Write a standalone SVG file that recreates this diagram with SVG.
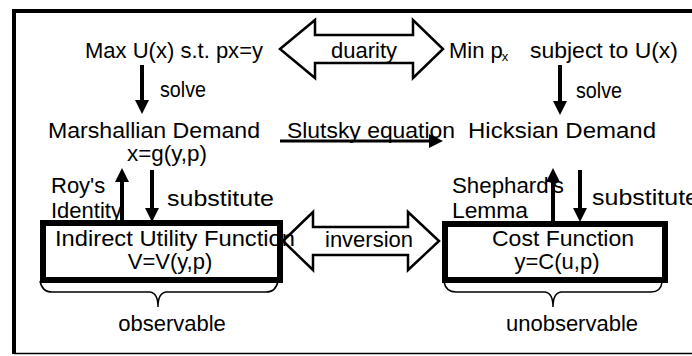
<svg xmlns="http://www.w3.org/2000/svg" width="692" height="356" viewBox="0 0 692 356">
<style>
text{font-family:"Liberation Sans",Arial,sans-serif;font-size:22px;fill:#000}
.solid{stroke:#000;stroke-width:4;fill:none}
.thin{stroke:#000;stroke-width:3;fill:none}
.hollow{stroke:#000;stroke-width:2.5;fill:none;stroke-linejoin:miter}
.box{stroke:#000;stroke-width:6;fill:#fff}
.brace{stroke:#000;stroke-width:1.5;fill:none}
.mid{text-anchor:middle}
</style>
<defs>
<marker id="ah" viewBox="0 0 14 14" refX="1" refY="7" markerWidth="14" markerHeight="14" markerUnits="userSpaceOnUse" orient="auto">
<path d="M0,0 L14,7 L0,14 Z" fill="#000"/>
</marker>
</defs>
<rect width="692" height="356" fill="#fff"/>
<g id="frame">
<line x1="14" y1="9" x2="14" y2="354" stroke="#000" stroke-width="4"/>
<line x1="12" y1="11" x2="692" y2="11" stroke="#000" stroke-width="4"/>
<line x1="14" y1="353.5" x2="692" y2="353.5" stroke="#000" stroke-width="1.5"/>
</g>
<g id="utility-max"><text x="85" y="58" textLength="178" lengthAdjust="spacingAndGlyphs">Max U(x) s.t. px=y</text></g>
<g id="expenditure-min"><text x="449" y="58">Min p<tspan font-size="13" dx="-1" dy="3">x</tspan></text><text x="530" y="58" textLength="148" lengthAdjust="spacingAndGlyphs">subject to U(x)</text></g>
<g id="marshallian"><text x="48" y="138" textLength="212" lengthAdjust="spacingAndGlyphs">Marshallian Demand</text><text x="127" y="161" textLength="80" lengthAdjust="spacingAndGlyphs">x=g(y,p)</text></g>
<g id="hicksian"><text x="468" y="138" textLength="188" lengthAdjust="spacingAndGlyphs">Hicksian Demand</text></g>
<g id="indirect-utility">
<rect class="box" x="43" y="223" width="237" height="57"/>
<text x="55" y="246" textLength="240" lengthAdjust="spacingAndGlyphs">Indirect Utility Function</text>
<text x="170" y="269" class="mid">V=V(y,p)</text>
</g>
<g id="cost-function">
<rect class="box" x="445" y="224" width="220" height="56"/>
<text x="563" y="246" class="mid" textLength="142" lengthAdjust="spacingAndGlyphs">Cost Function</text>
<text x="557" y="269" class="mid">y=C(u,p)</text>
</g>
<g id="observable">
<path class="brace" d="M40,281 Q42,292 52,292 L150,292 Q158,293 158,307 Q158,293 166,292 L266,292 Q276,292 278,281"/>
<text x="172" y="331" class="mid">observable</text>
</g>
<g id="unobservable">
<path class="brace" d="M444,282 Q446,292 456,292 L545,292 Q553,293 553,307 Q553,293 561,292 L651,292 Q661,292 662,282"/>
<text x="572" y="331" class="mid">unobservable</text>
</g>
<g id="connectors">
<path class="hollow" d="M280,49 L315,20 L315,35 L413,35 L413,20 L443,49 L413,78 L413,63 L315,63 L315,78 Z"/>
<text x="331" y="58">duarity</text>
<path class="hollow" d="M283,241 L313,212 L313,227 L408,227 L408,212 L439,241 L408,270 L408,255 L313,255 L313,270 Z"/>
<text x="325" y="247">inversion</text>
<line class="solid" x1="142" y1="65" x2="142" y2="101" marker-end="url(#ah)"/>
<text x="160" y="97" textLength="46" lengthAdjust="spacingAndGlyphs">solve</text>
<line class="solid" x1="560" y1="65" x2="560" y2="102" marker-end="url(#ah)"/>
<text x="576" y="98" textLength="46" lengthAdjust="spacingAndGlyphs">solve</text>
<line class="thin" x1="280" y1="141" x2="430" y2="141" marker-end="url(#ah)"/>
<text x="287" y="138" textLength="168" lengthAdjust="spacingAndGlyphs">Slutsky equation</text>
<line class="solid" x1="122" y1="223" x2="122" y2="181" marker-end="url(#ah)"/>
<text x="51" y="193">Roy's</text>
<text x="51" y="218">Identity</text>
<line class="solid" x1="152" y1="170" x2="152" y2="209" marker-end="url(#ah)"/>
<text x="167" y="206" textLength="107" lengthAdjust="spacingAndGlyphs">substitute</text>
<line class="solid" x1="553" y1="224" x2="553" y2="181" marker-end="url(#ah)"/>
<text x="452" y="193" textLength="112" lengthAdjust="spacingAndGlyphs">Shephard's</text>
<text x="452" y="218" textLength="76" lengthAdjust="spacingAndGlyphs">Lemma</text>
<line class="solid" x1="580" y1="170" x2="580" y2="209" marker-end="url(#ah)"/>
<text x="592" y="205" textLength="107" lengthAdjust="spacingAndGlyphs">substitute</text>
</g>
</svg>
